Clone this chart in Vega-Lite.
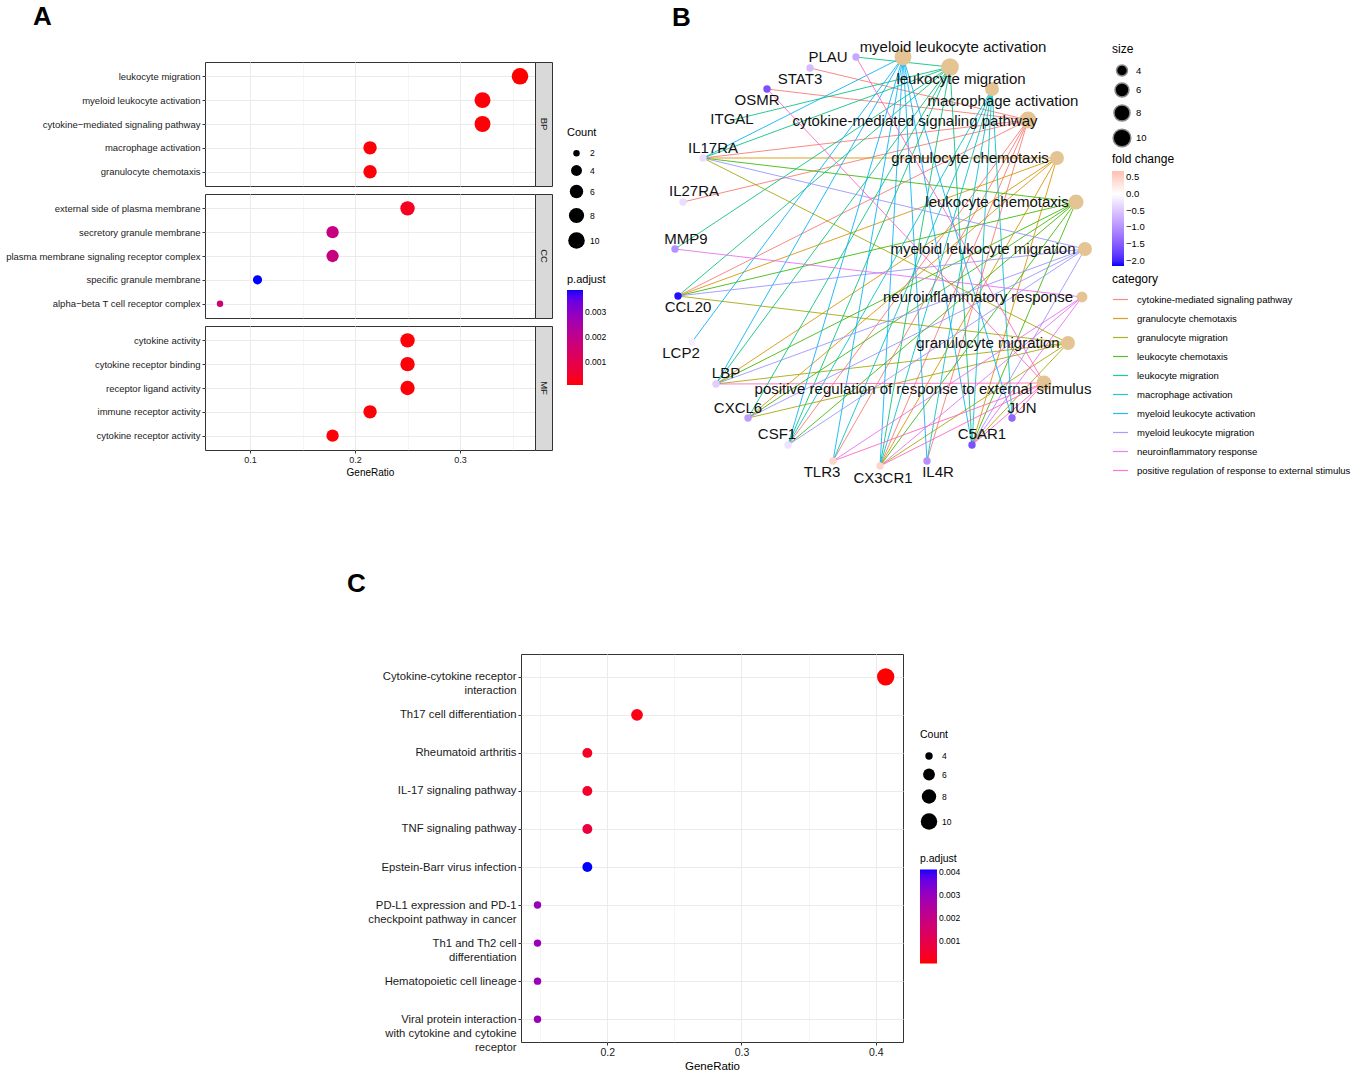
{
  "$schema": "https://vega.github.io/schema/vega-lite/v6.json",
  "padding": {"left": 5, "top": 3, "right": 0, "bottom": 0},
  "background": "white",
  "config": {
    "font": "Liberation Sans",
    "view": {"stroke": "#333333", "strokeWidth": 1},
    "axis": {"domain": false, "gridColor": "#EBEBEB", "tickColor": "#333333", "labelColor": "#1A1A1A", "titleColor": "#000000", "titleFontWeight": "normal", "tickSize": 3, "labelLimit": 400},
    "legend": {"titleFontWeight": "normal", "titleColor": "#000000", "labelColor": "#000000", "labelOverlap": false},
    "title": {"fontWeight": "bold", "fontSize": 26, "anchor": "start", "frame": "group", "color": "#000000", "baseline": "alphabetic"}
  },
  "datasets": {
    "go": [
      {"ont": "BP", "term": "leukocyte migration", "ratio": 0.3571, "count": 10, "padj": 0.00006},
      {"ont": "BP", "term": "myeloid leukocyte activation", "ratio": 0.3214, "count": 9, "padj": 0.0001},
      {"ont": "BP", "term": "cytokine−mediated signaling pathway", "ratio": 0.3214, "count": 9, "padj": 0.0001},
      {"ont": "BP", "term": "macrophage activation", "ratio": 0.2143, "count": 6, "padj": 0.0001},
      {"ont": "BP", "term": "granulocyte chemotaxis", "ratio": 0.2143, "count": 6, "padj": 0.0001},
      {"ont": "CC", "term": "external side of plasma membrane", "ratio": 0.25, "count": 7, "padj": 0.0003},
      {"ont": "CC", "term": "secretory granule membrane", "ratio": 0.1786, "count": 5, "padj": 0.0018},
      {"ont": "CC", "term": "plasma membrane signaling receptor complex", "ratio": 0.1786, "count": 5, "padj": 0.0018},
      {"ont": "CC", "term": "specific granule membrane", "ratio": 0.1071, "count": 3, "padj": 0.00386},
      {"ont": "CC", "term": "alpha−beta T cell receptor complex", "ratio": 0.0714, "count": 2, "padj": 0.0016},
      {"ont": "MF", "term": "cytokine activity", "ratio": 0.25, "count": 7, "padj": 0.0001},
      {"ont": "MF", "term": "cytokine receptor binding", "ratio": 0.25, "count": 7, "padj": 0.0001},
      {"ont": "MF", "term": "receptor ligand activity", "ratio": 0.25, "count": 7, "padj": 0.0001},
      {"ont": "MF", "term": "immune receptor activity", "ratio": 0.2143, "count": 6, "padj": 0.0001},
      {"ont": "MF", "term": "cytokine receptor activity", "ratio": 0.1786, "count": 5, "padj": 0.0001}
    ],
    "kegg": [
      {"term": "Cytokine-cytokine receptor\ninteraction", "ratio": 0.4074, "count": 11, "padj": 0.00002},
      {"term": "Th17 cell differentiation", "ratio": 0.2222, "count": 6, "padj": 0.00014},
      {"term": "Rheumatoid arthritis", "ratio": 0.1852, "count": 5, "padj": 0.00035},
      {"term": "IL-17 signaling pathway", "ratio": 0.1852, "count": 5, "padj": 0.0004},
      {"term": "TNF signaling pathway", "ratio": 0.1852, "count": 5, "padj": 0.0007},
      {"term": "Epstein-Barr virus infection", "ratio": 0.1852, "count": 5, "padj": 0.00409},
      {"term": "PD-L1 expression and PD-1\ncheckpoint pathway in cancer", "ratio": 0.1481, "count": 4, "padj": 0.0029},
      {"term": "Th1 and Th2 cell\ndifferentiation", "ratio": 0.1481, "count": 4, "padj": 0.0029},
      {"term": "Hematopoietic cell lineage", "ratio": 0.1481, "count": 4, "padj": 0.0029},
      {"term": "Viral protein interaction\nwith cytokine and cytokine\nreceptor", "ratio": 0.1481, "count": 4, "padj": 0.0029}
    ],
    "nodes": [
      {"name": "myeloid leukocyte activation", "type": "category", "x": 0.115, "y": 1.02, "lx": 0.365, "ly": 1.07, "count": 9},
      {"name": "leukocyte migration", "type": "category", "x": 0.35, "y": 0.97, "lx": 0.405, "ly": 0.91, "count": 10},
      {"name": "macrophage activation", "type": "category", "x": 0.56, "y": 0.86, "lx": 0.615, "ly": 0.80, "count": 6},
      {"name": "cytokine-mediated signaling pathway", "type": "category", "x": 0.74, "y": 0.705, "lx": 0.175, "ly": 0.70, "count": 9},
      {"name": "granulocyte chemotaxis", "type": "category", "x": 0.885, "y": 0.515, "lx": 0.45, "ly": 0.515, "count": 6},
      {"name": "leukocyte chemotaxis", "type": "category", "x": 0.98, "y": 0.295, "lx": 0.585, "ly": 0.295, "count": 7},
      {"name": "myeloid leukocyte migration", "type": "category", "x": 1.025, "y": 0.06, "lx": 0.515, "ly": 0.06, "count": 6},
      {"name": "neuroinflammatory response", "type": "category", "x": 1.01, "y": -0.18, "lx": 0.49, "ly": -0.18, "count": 4},
      {"name": "granulocyte migration", "type": "category", "x": 0.94, "y": -0.41, "lx": 0.54, "ly": -0.41, "count": 6},
      {"name": "positive regulation of response to external stimulus", "type": "category", "x": 0.82, "y": -0.61, "lx": 0.215, "ly": -0.64, "count": 7},
      {"name": "PLAU", "type": "gene", "x": -0.12, "y": 1.02, "lx": -0.26, "ly": 1.02, "fc": -0.8},
      {"name": "STAT3", "type": "gene", "x": -0.35, "y": 0.965, "lx": -0.40, "ly": 0.91, "fc": -0.6},
      {"name": "OSMR", "type": "gene", "x": -0.565, "y": 0.86, "lx": -0.615, "ly": 0.805, "fc": -1.6},
      {"name": "ITGAL", "type": "gene", "x": -0.746, "y": 0.703, "lx": -0.74, "ly": 0.71, "fc": 0.0},
      {"name": "IL17RA", "type": "gene", "x": -0.885, "y": 0.515, "lx": -0.835, "ly": 0.565, "fc": -0.3},
      {"name": "IL27RA", "type": "gene", "x": -0.985, "y": 0.295, "lx": -0.93, "ly": 0.35, "fc": -0.3},
      {"name": "MMP9", "type": "gene", "x": -1.025, "y": 0.06, "lx": -0.97, "ly": 0.11, "fc": -1.0},
      {"name": "CCL20", "type": "gene", "x": -1.01, "y": -0.175, "lx": -0.96, "ly": -0.23, "fc": -2.1},
      {"name": "LCP2", "type": "gene", "x": -0.94, "y": -0.405, "lx": -0.995, "ly": -0.46, "fc": -0.15},
      {"name": "LBP", "type": "gene", "x": -0.82, "y": -0.615, "lx": -0.77, "ly": -0.56, "fc": -0.45},
      {"name": "CXCL6", "type": "gene", "x": -0.66, "y": -0.785, "lx": -0.71, "ly": -0.735, "fc": -0.9},
      {"name": "CSF1", "type": "gene", "x": -0.46, "y": -0.92, "lx": -0.515, "ly": -0.865, "fc": -0.25},
      {"name": "TLR3", "type": "gene", "x": -0.235, "y": -1.0, "lx": -0.29, "ly": -1.055, "fc": 0.45},
      {"name": "CX3CR1", "type": "gene", "x": 0.0, "y": -1.025, "lx": 0.015, "ly": -1.085, "fc": 0.45},
      {"name": "IL4R", "type": "gene", "x": 0.235, "y": -1.0, "lx": 0.29, "ly": -1.055, "fc": -1.0},
      {"name": "C5AR1", "type": "gene", "x": 0.46, "y": -0.92, "lx": 0.51, "ly": -0.865, "fc": -1.6},
      {"name": "JUN", "type": "gene", "x": 0.66, "y": -0.785, "lx": 0.71, "ly": -0.735, "fc": -1.4}
    ],
    "edges": [
      {"gene": "STAT3", "category": "cytokine-mediated signaling pathway"},
      {"gene": "OSMR", "category": "cytokine-mediated signaling pathway"},
      {"gene": "IL17RA", "category": "cytokine-mediated signaling pathway"},
      {"gene": "IL27RA", "category": "cytokine-mediated signaling pathway"},
      {"gene": "CCL20", "category": "cytokine-mediated signaling pathway"},
      {"gene": "CSF1", "category": "cytokine-mediated signaling pathway"},
      {"gene": "IL4R", "category": "cytokine-mediated signaling pathway"},
      {"gene": "TLR3", "category": "cytokine-mediated signaling pathway"},
      {"gene": "CX3CR1", "category": "cytokine-mediated signaling pathway"},
      {"gene": "IL17RA", "category": "granulocyte chemotaxis"},
      {"gene": "CCL20", "category": "granulocyte chemotaxis"},
      {"gene": "LBP", "category": "granulocyte chemotaxis"},
      {"gene": "CXCL6", "category": "granulocyte chemotaxis"},
      {"gene": "CX3CR1", "category": "granulocyte chemotaxis"},
      {"gene": "C5AR1", "category": "granulocyte chemotaxis"},
      {"gene": "IL17RA", "category": "granulocyte migration"},
      {"gene": "CCL20", "category": "granulocyte migration"},
      {"gene": "LBP", "category": "granulocyte migration"},
      {"gene": "CXCL6", "category": "granulocyte migration"},
      {"gene": "CX3CR1", "category": "granulocyte migration"},
      {"gene": "C5AR1", "category": "granulocyte migration"},
      {"gene": "IL17RA", "category": "leukocyte chemotaxis"},
      {"gene": "CCL20", "category": "leukocyte chemotaxis"},
      {"gene": "LBP", "category": "leukocyte chemotaxis"},
      {"gene": "CXCL6", "category": "leukocyte chemotaxis"},
      {"gene": "CSF1", "category": "leukocyte chemotaxis"},
      {"gene": "CX3CR1", "category": "leukocyte chemotaxis"},
      {"gene": "C5AR1", "category": "leukocyte chemotaxis"},
      {"gene": "PLAU", "category": "leukocyte migration"},
      {"gene": "ITGAL", "category": "leukocyte migration"},
      {"gene": "IL17RA", "category": "leukocyte migration"},
      {"gene": "MMP9", "category": "leukocyte migration"},
      {"gene": "CCL20", "category": "leukocyte migration"},
      {"gene": "LBP", "category": "leukocyte migration"},
      {"gene": "CXCL6", "category": "leukocyte migration"},
      {"gene": "CSF1", "category": "leukocyte migration"},
      {"gene": "CX3CR1", "category": "leukocyte migration"},
      {"gene": "C5AR1", "category": "leukocyte migration"},
      {"gene": "CSF1", "category": "macrophage activation"},
      {"gene": "TLR3", "category": "macrophage activation"},
      {"gene": "CX3CR1", "category": "macrophage activation"},
      {"gene": "IL4R", "category": "macrophage activation"},
      {"gene": "C5AR1", "category": "macrophage activation"},
      {"gene": "JUN", "category": "macrophage activation"},
      {"gene": "IL17RA", "category": "myeloid leukocyte activation"},
      {"gene": "LCP2", "category": "myeloid leukocyte activation"},
      {"gene": "LBP", "category": "myeloid leukocyte activation"},
      {"gene": "CSF1", "category": "myeloid leukocyte activation"},
      {"gene": "TLR3", "category": "myeloid leukocyte activation"},
      {"gene": "CX3CR1", "category": "myeloid leukocyte activation"},
      {"gene": "IL4R", "category": "myeloid leukocyte activation"},
      {"gene": "C5AR1", "category": "myeloid leukocyte activation"},
      {"gene": "JUN", "category": "myeloid leukocyte activation"},
      {"gene": "IL17RA", "category": "myeloid leukocyte migration"},
      {"gene": "CCL20", "category": "myeloid leukocyte migration"},
      {"gene": "LBP", "category": "myeloid leukocyte migration"},
      {"gene": "CXCL6", "category": "myeloid leukocyte migration"},
      {"gene": "CSF1", "category": "myeloid leukocyte migration"},
      {"gene": "C5AR1", "category": "myeloid leukocyte migration"},
      {"gene": "MMP9", "category": "neuroinflammatory response"},
      {"gene": "TLR3", "category": "neuroinflammatory response"},
      {"gene": "CX3CR1", "category": "neuroinflammatory response"},
      {"gene": "C5AR1", "category": "neuroinflammatory response"},
      {"gene": "PLAU", "category": "positive regulation of response to external stimulus"},
      {"gene": "OSMR", "category": "positive regulation of response to external stimulus"},
      {"gene": "LBP", "category": "positive regulation of response to external stimulus"},
      {"gene": "TLR3", "category": "positive regulation of response to external stimulus"},
      {"gene": "CX3CR1", "category": "positive regulation of response to external stimulus"},
      {"gene": "C5AR1", "category": "positive regulation of response to external stimulus"},
      {"gene": "JUN", "category": "positive regulation of response to external stimulus"}
    ]
  },
  "spacing": 84,
  "resolve": {"scale": {"x": "independent", "y": "independent", "color": "independent", "size": "independent", "fill": "independent", "stroke": "independent"}},
  "vconcat": [
    {
      "spacing": 47,
      "resolve": {"scale": {"x": "independent", "y": "independent", "color": "independent", "size": "independent", "fill": "independent", "stroke": "independent"}},
      "hconcat": [
        {
          "columns": 2,
          "bounds": "flush",
          "spacing": {"row": 8, "column": 0},
          "resolve": {"scale": {"x": "independent", "y": "independent", "color": "independent", "size": "independent"}},
          "concat": [
            {
              "width": 330, "height": 124,
              "title": {"text": "A", "dx": -172, "offset": 32},
              "data": {"name": "go"},
              "transform": [{"filter": "datum.ont === 'BP'"}],
              "mark": {"type": "circle", "opacity": 1},
              "encoding": {
                "x": {"field": "ratio", "type": "quantitative", "scale": {"domain": [0.0571, 0.3714], "nice": false, "zero": false},
                  "axis": {"values": [0.1, 0.15, 0.2, 0.25, 0.3, 0.35], "labels": false, "ticks": false, "title": null, "grid": true,
                    "gridWidth": {"condition": {"test": "abs(datum.value*10 - round(datum.value*10)) < 0.001", "value": 1}, "value": 0.5}}},
                "y": {"field": "term", "type": "nominal", "sort": null, "scale": {"type": "point", "padding": 0.6},
                  "axis": {"title": null, "grid": true, "gridWidth": 1, "labelFontSize": 9.5, "labelPadding": 2}},
                "color": {"field": "padj", "type": "quantitative", "scale": {"domain": [0.00006, 0.00386], "range": ["#FF0000", "#0000FF"], "interpolate": "lab"},
                  "legend": {"title": "p.adjust", "orient": "none", "legendX": 362, "legendY": 212, "direction": "vertical", "gradientLength": 95, "gradientThickness": 16, "gradientStrokeWidth": 0, "values": [0.001, 0.002, 0.003], "format": ".3f", "titleFontSize": 11, "labelFontSize": 8.5}},
                "size": {"field": "count", "type": "quantitative", "scale": {"type": "sqrt", "zero": false, "domain": [2, 10], "range": [42, 275]},
                  "legend": {"title": "Count", "orient": "none", "legendX": 362, "legendY": 65, "direction": "vertical", "values": [2, 4, 6, 8, 10], "titleFontSize": 11, "labelFontSize": 8.5, "rowPadding": 2, "titlePadding": 11}}
              }
            },
            {
              "width": 17, "height": 124,
              "data": {"values": [{"ont": "BP"}]},
              "mark": {"type": "text", "angle": 90, "fontSize": 9.5, "color": "#1A1A1A"},
              "encoding": {"text": {"field": "ont"}},
              "view": {"fill": "#D9D9D9", "stroke": "#333333"}
            },
            {
              "width": 330, "height": 124,
              "data": {"name": "go"},
              "transform": [{"filter": "datum.ont === 'CC'"}],
              "mark": {"type": "circle", "opacity": 1},
              "encoding": {
                "x": {"field": "ratio", "type": "quantitative", "scale": {"domain": [0.0571, 0.3714], "nice": false, "zero": false},
                  "axis": {"values": [0.1, 0.15, 0.2, 0.25, 0.3, 0.35], "labels": false, "ticks": false, "title": null, "grid": true,
                    "gridWidth": {"condition": {"test": "abs(datum.value*10 - round(datum.value*10)) < 0.001", "value": 1}, "value": 0.5}}},
                "y": {"field": "term", "type": "nominal", "sort": null, "scale": {"type": "point", "padding": 0.6},
                  "axis": {"title": null, "grid": true, "gridWidth": 1, "labelFontSize": 9.5, "labelPadding": 2}},
                "color": {"field": "padj", "type": "quantitative", "scale": {"domain": [0.00006, 0.00386], "range": ["#FF0000", "#0000FF"], "interpolate": "lab"}, "legend": null},
                "size": {"field": "count", "type": "quantitative", "scale": {"type": "sqrt", "zero": false, "domain": [2, 10], "range": [42, 275]}, "legend": null}
              }
            },
            {
              "width": 17, "height": 124,
              "data": {"values": [{"ont": "CC"}]},
              "mark": {"type": "text", "angle": 90, "fontSize": 9.5, "color": "#1A1A1A"},
              "encoding": {"text": {"field": "ont"}},
              "view": {"fill": "#D9D9D9", "stroke": "#333333"}
            },
            {
              "width": 330, "height": 124,
              "data": {"name": "go"},
              "transform": [{"filter": "datum.ont === 'MF'"}],
              "mark": {"type": "circle", "opacity": 1},
              "encoding": {
                "x": {"field": "ratio", "type": "quantitative", "scale": {"domain": [0.0571, 0.3714], "nice": false, "zero": false},
                  "axis": {"values": [0.1, 0.15, 0.2, 0.25, 0.3, 0.35], "title": "GeneRatio", "titleFontSize": 10, "labelFontSize": 9, "labelPadding": 2, "titlePadding": 3, "grid": true,
                    "labelExpr": "abs(datum.value*10 - round(datum.value*10)) < 0.001 ? format(datum.value, '.1f') : ''",
                    "tickOpacity": {"condition": {"test": "abs(datum.value*10 - round(datum.value*10)) < 0.001", "value": 1}, "value": 0},
                    "gridWidth": {"condition": {"test": "abs(datum.value*10 - round(datum.value*10)) < 0.001", "value": 1}, "value": 0.5}}},
                "y": {"field": "term", "type": "nominal", "sort": null, "scale": {"type": "point", "padding": 0.6},
                  "axis": {"title": null, "grid": true, "gridWidth": 1, "labelFontSize": 9.5, "labelPadding": 2}},
                "color": {"field": "padj", "type": "quantitative", "scale": {"domain": [0.00006, 0.00386], "range": ["#FF0000", "#0000FF"], "interpolate": "lab"}, "legend": null},
                "size": {"field": "count", "type": "quantitative", "scale": {"type": "sqrt", "zero": false, "domain": [2, 10], "range": [42, 275]}, "legend": null}
              }
            },
            {
              "width": 17, "height": 124,
              "data": {"values": [{"ont": "MF"}]},
              "mark": {"type": "text", "angle": 90, "fontSize": 9.5, "color": "#1A1A1A"},
              "encoding": {"text": {"field": "ont"}},
              "view": {"fill": "#D9D9D9", "stroke": "#333333"}
            }
          ]
        },
        {
          "width": 455, "height": 420,
          "title": {"text": "B", "dx": 17, "offset": 9},
          "view": {"stroke": null},
          "layer": [
            {
              "data": {"name": "edges"},
              "transform": [
                {"lookup": "gene", "from": {"data": {"name": "nodes"}, "key": "name", "fields": ["x", "y"]}, "as": ["gx", "gy"]},
                {"lookup": "category", "from": {"data": {"name": "nodes"}, "key": "name", "fields": ["x", "y"]}, "as": ["cx", "cy"]}
              ],
              "mark": {"type": "rule", "strokeWidth": 1, "opacity": 0.85},
              "encoding": {
                "x": {"field": "gx", "type": "quantitative", "scale": {"domain": [-1.125, 1.15], "nice": false, "zero": false}, "axis": null},
                "y": {"field": "gy", "type": "quantitative", "scale": {"domain": [-1.105, 0.995], "nice": false, "zero": false}, "axis": null},
                "x2": {"field": "cx"},
                "y2": {"field": "cy"},
                "stroke": {"field": "category", "type": "nominal",
                  "scale": {"domain": ["cytokine-mediated signaling pathway", "granulocyte chemotaxis", "granulocyte migration", "leukocyte chemotaxis", "leukocyte migration", "macrophage activation", "myeloid leukocyte activation", "myeloid leukocyte migration", "neuroinflammatory response", "positive regulation of response to external stimulus"],
                    "range": ["#F8766D", "#D89000", "#A3A500", "#39B600", "#00BF7D", "#00BFC4", "#00B0F6", "#9590FF", "#E76BF3", "#FF62BC"]},
                  "legend": {"title": "category", "orient": "none", "legendX": 457, "legendY": 212, "direction": "vertical", "symbolType": "stroke", "symbolSize": 225, "symbolStrokeWidth": 1.2, "titleFontSize": 12, "labelFontSize": 9.5, "rowPadding": 6, "labelOffset": 8, "labelLimit": 300}}
              }
            },
            {
              "data": {"name": "nodes"},
              "transform": [{"filter": "datum.type === 'category'"}],
              "mark": {"type": "circle", "opacity": 1},
              "encoding": {
                "x": {"field": "x", "type": "quantitative", "scale": {"domain": [-1.125, 1.15], "nice": false, "zero": false}, "axis": null},
                "y": {"field": "y", "type": "quantitative", "scale": {"domain": [-1.105, 0.995], "nice": false, "zero": false}, "axis": null},
                "color": {"field": "type", "type": "nominal", "scale": {"range": ["#E5C494"]}, "legend": null},
                "size": {"field": "count", "type": "quantitative", "scale": {"type": "sqrt", "zero": false, "domain": [4, 10], "range": [119, 314]},
                  "legend": {"title": "size", "orient": "none", "legendX": 457, "legendY": -18, "direction": "vertical", "values": [4, 6, 8, 10], "titleFontSize": 12, "labelFontSize": 9.5, "symbolFillColor": "black", "titlePadding": 8, "rowPadding": 1}}
              }
            },
            {
              "data": {"name": "nodes"},
              "transform": [{"filter": "datum.type === 'gene'"}],
              "mark": {"type": "circle", "opacity": 1, "size": 55},
              "encoding": {
                "x": {"field": "x", "type": "quantitative", "scale": {"domain": [-1.125, 1.15], "nice": false, "zero": false}, "axis": null},
                "y": {"field": "y", "type": "quantitative", "scale": {"domain": [-1.105, 0.995], "nice": false, "zero": false}, "axis": null},
                "fill": {"field": "fc", "type": "quantitative", "scale": {"domain": [-2.15, 0, 0.68], "range": ["#0000FF", "#FFFFFF", "#FFBFB0"], "interpolate": "lab"},
                  "legend": {"title": "fold change", "orient": "none", "legendX": 457, "legendY": 92, "direction": "vertical", "gradientLength": 95, "gradientThickness": 12, "gradientStrokeWidth": 0, "values": [-2, -1.5, -1, -0.5, 0, 0.5], "format": ".1f", "titleFontSize": 12, "labelFontSize": 9.5}}
              }
            },
            {
              "data": {"name": "nodes"},
              "mark": {"type": "text", "fontSize": 15, "color": "#111111", "baseline": "middle"},
              "encoding": {
                "x": {"field": "lx", "type": "quantitative", "scale": {"domain": [-1.125, 1.15], "nice": false, "zero": false}, "axis": null},
                "y": {"field": "ly", "type": "quantitative", "scale": {"domain": [-1.105, 0.995], "nice": false, "zero": false}, "axis": null},
                "text": {"field": "name"}
              }
            }
          ],
          "resolve": {"scale": {"size": "independent"}}
        }
      ]
    },
    {
      "bounds": "flush",
      "spacing": 0,
      "resolve": {"scale": {"x": "independent", "y": "independent", "color": "independent", "size": "independent"}},
      "hconcat": [
        {
          "width": 316, "height": 388,
          "data": {"values": []},
          "mark": "point",
          "encoding": {},
          "view": {"stroke": null}
        },
        {
          "width": 382, "height": 388,
          "title": {"text": "C", "dx": -174, "offset": 57},
          "data": {"name": "kegg"},
          "mark": {"type": "circle", "opacity": 1},
          "encoding": {
            "x": {"field": "ratio", "type": "quantitative", "scale": {"domain": [0.1358, 0.4203], "nice": false, "zero": false},
              "axis": {"values": [0.15, 0.2, 0.25, 0.3, 0.35, 0.4], "title": "GeneRatio", "titleFontSize": 11.5, "labelFontSize": 10.5, "labelPadding": 2, "titlePadding": 3, "grid": true,
                "labelExpr": "abs(datum.value*10 - round(datum.value*10)) < 0.001 ? format(datum.value, '.1f') : ''",
                "tickOpacity": {"condition": {"test": "abs(datum.value*10 - round(datum.value*10)) < 0.001", "value": 1}, "value": 0},
                "gridWidth": {"condition": {"test": "abs(datum.value*10 - round(datum.value*10)) < 0.001", "value": 1}, "value": 0.5}}},
            "y": {"field": "term", "type": "nominal", "sort": null, "scale": {"type": "point", "padding": 0.6},
              "axis": {"title": null, "grid": true, "gridWidth": 1, "labelFontSize": 11.3, "labelLineHeight": 14, "labelPadding": 2, "labelExpr": "split(datum.label, '\\n')"}},
            "color": {"field": "padj", "type": "quantitative", "scale": {"domain": [0.00001, 0.00409], "range": ["#FF0000", "#0000FF"], "interpolate": "lab"},
              "legend": {"title": "p.adjust", "orient": "none", "legendX": 399, "legendY": 200, "direction": "vertical", "gradientLength": 94, "gradientThickness": 17, "gradientStrokeWidth": 0, "values": [0.001, 0.002, 0.003, 0.004], "format": ".3f", "titleFontSize": 10.5, "labelFontSize": 8.5}},
            "size": {"field": "count", "type": "quantitative", "scale": {"type": "sqrt", "zero": false, "domain": [4, 11], "range": [55, 300]},
              "legend": {"title": "Count", "orient": "none", "legendX": 399, "legendY": 76, "direction": "vertical", "values": [4, 6, 8, 10], "titleFontSize": 10.5, "labelFontSize": 8.5, "rowPadding": 2, "titlePadding": 11}}
          }
        }
      ]
    }
  ]
}
